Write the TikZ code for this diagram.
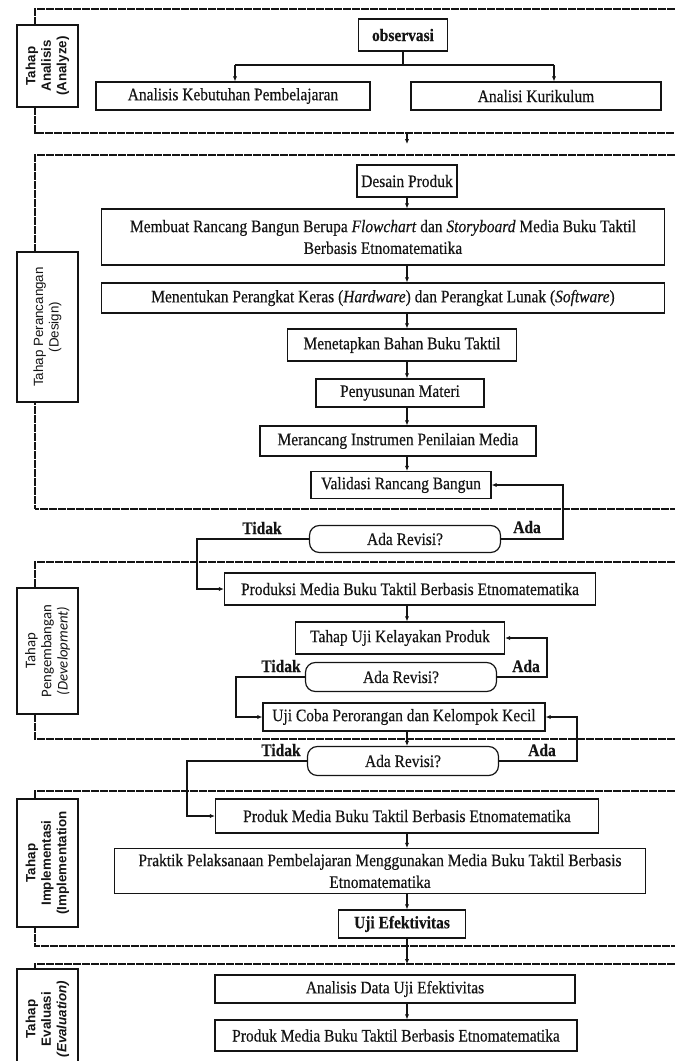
\documentclass[tikz,border=0pt]{standalone}
\usepackage{fontspec}
\setmainfont{Liberation Serif}[FakeStretch=0.88, FakeBold=0.35]
\setsansfont{Liberation Sans}
\newfontfamily\devfont{Carlito}
\usetikzlibrary{arrows.meta,positioning,calc}
\definecolor{flowInk}{RGB}{20,20,20}
\newcommand{\pxu}{0.025cm}

\begin{document}
\begin{tikzpicture}[x=0.025cm,y=-0.025cm,
    box/.style={draw=flowInk, line width=0.85pt, fill=white, inner sep=0pt, align=center, text=flowInk, font=\fontsize{12.5}{15.5}\selectfont},
    askbox/.style={box, rounded corners=7pt},
    phase/.style={draw=flowInk, line width=0.85pt, fill=white, inner sep=0pt, rotate=90, align=center, text=flowInk, font=\sffamily\fontsize{9.5}{11}\selectfont},
    phaseframe/.style={draw=flowInk, line width=0.85pt, dash pattern=on 2.6pt off 0.6pt},
    flow/.style={draw=flowInk, line width=0.75pt},
    arr/.style={flow, -{Latex[length=3.5pt,width=3pt]}},
    ynlabel/.style={text=flowInk, inner sep=0pt, font=\bfseries\fontsize{12.5}{14}\selectfont},
    sz/.style 2 args={minimum width=#1*\pxu, minimum height=#2*\pxu}]
    \useasboundingbox (0,0) rectangle (675,1061);

    % key values
    \pgfmathsetmacro{\xl}{35}
    \pgfmathsetmacro{\xr}{675}
    \pgfmathsetmacro{\xm}{407}

    % phase frames
    \draw[phaseframe] (\xr,9) -- (\xl,9) -- (\xl,133) -- (\xr,133);
    \draw[phaseframe] (\xr,155) -- (\xl,155) -- (\xl,509) -- (\xr,509);
    \draw[phaseframe] (\xr,562) -- (\xl,562) -- (\xl,739) -- (\xr,739);
    \draw[phaseframe] (\xr,791) -- (\xl,791) -- (\xl,946) -- (\xr,946);
    \draw[phaseframe] (\xr,964) -- (\xl,964) -- (\xl,1061);

    % phase labels
    \node[phase, sz={82}{61}, font=\sffamily\bfseries\fontsize{9.5}{11}\selectfont] (labAnalyze) at (47.5,66) {Tahap\\Analisis\\(Analyze)};
    \node[phase, sz={150}{61}] (labDesign) at (47.5,327) {Tahap Perancangan\\(Design)};
    \node[phase, sz={126}{61}, font=\devfont\fontsize{10.5}{11.5}\selectfont] (labDevelop) at (47.5,651) {Tahap\\Pengembangan\\\textit{(Development)}};
    \node[phase, sz={128}{61}, font=\sffamily\bfseries\fontsize{9.5}{11}\selectfont] (labImplement) at (47.5,863) {Tahap\\Implementasi\\(Implementation};
    \node[phase, sz={100}{61}, font=\sffamily\bfseries\fontsize{9.5}{11}\selectfont] (labEvaluate) at (47.5,1019) {Tahap\\Evaluasi\\\textit{(Evaluation)}};

    % analysis
    \node[box, sz={89}{32}, font=\bfseries\fontsize{12.5}{15.5}\selectfont] (obs) at (403,35) {observasi};
    \node[box, sz={274}{28}] (needs) at (233,96) {Analisis Kebutuhan Pembelajaran};
    \node[box, sz={250}{28}] (curric) at (536,96) {Analisi Kurikulum};

    % design
    \node[box, sz={100}{32}] (design) at (407,181) {Desain Produk};
    \node[box, sz={563}{56}] (blueprint) at (383,237) {Membuat Rancang Bangun Berupa \textit{Flowchart} dan \textit{Storyboard} Media Buku Taktil\\Berbasis Etnomatematika};
    \node[box, sz={563}{30}] (devices) at (383,298) {Menentukan Perangkat Keras (\textit{Hardware}) dan Perangkat Lunak (\textit{Software})};
    \node[box, sz={229}{32}] (material) at (402,345) {Menetapkan Bahan Buku Taktil};
    \node[box, sz={168}{28}] (content) at (400,393) {Penyusunan Materi};
    \node[box, sz={276}{30}] (instrument) at (398,441) {Merancang Instrumen Penilaian Media};
    \node[box, sz={180}{27}] (validate) at (401,485) {Validasi Rancang Bangun};
    \node[askbox, sz={191}{27}] (askA) at (405,539) {Ada Revisi?};

    % development
    \node[box, sz={371}{32}] (produce) at (410,589) {Produksi Media Buku Taktil Berbasis Etnomatematika};
    \node[box, sz={209}{32}] (feasible) at (400,638) {Tahap Uji Kelayakan Produk};
    \node[askbox, sz={191}{29}] (askB) at (401,677) {Ada Revisi?};
    \node[box, sz={282}{28}] (trial) at (404,717) {Uji Coba Perorangan dan Kelompok Kecil};
    \node[askbox, sz={191}{29}] (askC) at (403,761) {Ada Revisi?};

    % implementation
    \node[box, sz={383}{34}] (product) at (407,816) {Produk Media Buku Taktil Berbasis Etnomatematika};
    \node[box, sz={531}{45}] (practice) at (380,871) {Praktik Pelaksanaan Pembelajaran Menggunakan Media Buku Taktil Berbasis\\Etnomatematika};
    \node[box, sz={127}{28}, font=\bfseries\fontsize{12.5}{15.5}\selectfont] (effect) at (402,924) {Uji Efektivitas};

    % evaluation
    \node[box, sz={360}{28}] (analysis) at (395,989) {Analisis Data Uji Efektivitas};
    \node[box, sz={362}{31}] (final) at (396,1035.5) {Produk Media Buku Taktil Berbasis Etnomatematika};

    % branch points
    \coordinate (col) at (\xm,0);
    \coordinate (brL) at (235,65);
    \coordinate (brR) at (554,65);
    \coordinate (gapA) at (\xm,133);
    \coordinate (gapB) at (\xm,144);
    \coordinate (gapC) at (\xm,964);
    \coordinate (adaA) at (563,539);
    \coordinate (noA) at (197,539);
    \coordinate (adaB) at (547,677);
    \coordinate (noB) at (236,677);
    \coordinate (adaC) at (577,761);
    \coordinate (noC) at (187,761);

    % connectors
    \draw[flow] (obs.south) -- (obs.south |- brL);
    \draw[flow] (brL) -- (brR);
    \draw[arr] (brL) -- (brL |- needs.north);
    \draw[arr] (brR) -- (brR |- curric.north);
    \draw[arr] (gapA) -- (gapB);
    \draw[arr] (col |- design.south) -- (col |- blueprint.north);
    \draw[arr] (col |- blueprint.south) -- (col |- devices.north);
    \draw[arr] (col |- devices.south) -- (col |- material.north);
    \draw[arr] (col |- material.south) -- (col |- content.north);
    \draw[arr] (col |- content.south) -- (col |- instrument.north);
    \draw[arr] (col |- instrument.south) -- (col |- validate.north);
    \draw[arr] (askA.east) -- (adaA) |- (validate.east);
    \draw[arr] (askA.west) -- (noA) |- (produce.west);
    \draw[arr] (col |- produce.south) -- (col |- feasible.north);
    \draw[arr] (askB.east) -- (adaB) |- (feasible.east);
    \draw[arr] (askB.west) -- (noB) |- (trial.west);
    \draw[arr] (col |- trial.south) -- (col |- askC.north);
    \draw[arr] (askC.east) -- (adaC) |- (trial.east);
    \draw[arr] (askC.west) -- (noC) |- (product.west);
    \draw[arr] (col |- product.south) -- (col |- practice.north);
    \draw[arr] (col |- practice.south) -- (col |- effect.north);
    \draw[arr] (col |- effect.south) -- (gapC);
    \draw[arr] (col |- analysis.south) -- (col |- final.north);

    % answers
    \node[ynlabel] (noTextA) at (262,528) {Tidak};
    \node[ynlabel] (adaTextA) at (527,527) {Ada};
    \node[ynlabel] (noTextB) at (281,666) {Tidak};
    \node[ynlabel] (adaTextB) at (526,666) {Ada};
    \node[ynlabel] (noTextC) at (281,750) {Tidak};
    \node[ynlabel] (adaTextC) at (542,750) {Ada};
\end{tikzpicture}
\end{document}
